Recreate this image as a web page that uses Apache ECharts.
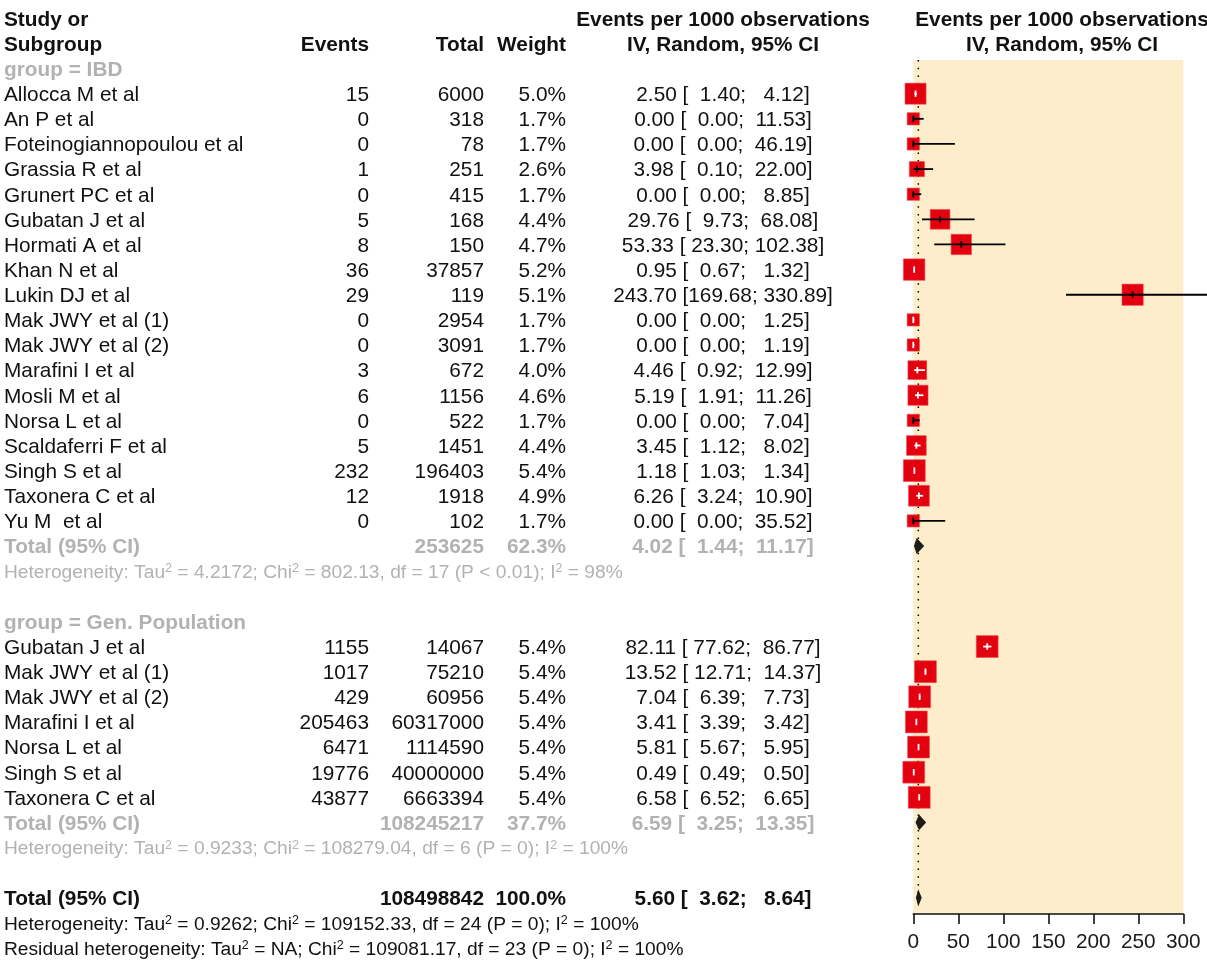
<!DOCTYPE html>
<html>
<head>
<meta charset="utf-8">
<script src="https://cdn.jsdelivr.net/npm/echarts@6/dist/echarts.min.js"></script>
<style>
html,body{margin:0;padding:0;background:#fff;}
#chart{width:1207px;height:966px;}
</style>
</head>
<body>
<div id="chart"></div>
<script>
// ---------- DATA ----------
const ibdStudies = ['Allocca M et al','An P et al','Foteinogiannopoulou et al','Grassia R et al','Grunert PC et al','Gubatan J et al','Hormati A et al','Khan N et al','Lukin DJ et al','Mak JWY et al (1)','Mak JWY et al (2)','Marafini I et al','Mosli M et al','Norsa L et al','Scaldaferri F et al','Singh S et al','Taxonera C et al','Yu M  et al'];
const ibdEvents = [15,0,0,1,0,5,8,36,29,0,0,3,6,0,5,232,12,0];
const ibdTotal = [6000,318,78,251,415,168,150,37857,119,2954,3091,672,1156,522,1451,196403,1918,102];
const ibdWeight = [5.0,1.7,1.7,2.6,1.7,4.4,4.7,5.2,5.1,1.7,1.7,4.0,4.6,1.7,4.4,5.4,4.9,1.7];
const ibdEst = [2.50,0.00,0.00,3.98,0.00,29.76,53.33,0.95,243.70,0.00,0.00,4.46,5.19,0.00,3.45,1.18,6.26,0.00];
const ibdLower = [1.40,0.00,0.00,0.10,0.00,9.73,23.30,0.67,169.68,0.00,0.00,0.92,1.91,0.00,1.12,1.03,3.24,0.00];
const ibdUpper = [4.12,11.53,46.19,22.00,8.85,68.08,102.38,1.32,330.89,1.25,1.19,12.99,11.26,7.04,8.02,1.34,10.90,35.52];
const ibdPooled = {total:253625, weight:62.3, est:4.02, lower:1.44, upper:11.17};

const genStudies = ['Gubatan J et al','Mak JWY et al (1)','Mak JWY et al (2)','Marafini I et al','Norsa L et al','Singh S et al','Taxonera C et al'];
const genEvents = [1155,1017,429,205463,6471,19776,43877];
const genTotal = [14067,75210,60956,60317000,1114590,40000000,6663394];
const genWeight = [5.4,5.4,5.4,5.4,5.4,5.4,5.4];
const genEst = [82.11,13.52,7.04,3.41,5.81,0.49,6.58];
const genLower = [77.62,12.71,6.39,3.39,5.67,0.49,6.52];
const genUpper = [86.77,14.37,7.73,3.42,5.95,0.50,6.65];
const genPooled = {total:108245217, weight:37.7, est:6.59, lower:3.25, upper:13.35};

const overallPooled = {total:108498842, weight:100.0, est:5.60, lower:3.62, upper:8.64};

const hetIBD = 'Heterogeneity: Tau{s|2} = 4.2172; Chi{s|2} = 802.13, df = 17 (P < 0.01); I{s|2} = 98%';
const hetGen = 'Heterogeneity: Tau{s|2} = 0.9233; Chi{s|2} = 108279.04, df = 6 (P = 0); I{s|2} = 100%';
const hetAll = 'Heterogeneity: Tau{s|2} = 0.9262; Chi{s|2} = 109152.33, df = 24 (P = 0); I{s|2} = 100%';
const hetResid = 'Residual heterogeneity: Tau{s|2} = NA; Chi{s|2} = 109081.17, df = 23 (P = 0); I{s|2} = 100%';

const xTicks = {min:0, max:300, interval:50};

// ---------- LAYOUT ----------
const FONT = "'Liberation Sans', Arial, Helvetica, sans-serif";
const FS = 20.8, FS_HET = 19.2, FS_SUP = 12.5;
const BLACK = '#111111';
const GREY = '#b2b2b2';
const ROW_TOP = 18.3, ROW_STEP = 25.13, H = 966;
const COL = {study:4, events:369, total:484, weight:566, effect:723, plotHead:1062};
const PLOT = {left:913.3, width:270, top:60, bottom:914};

function fmtCI(est, lo, hi){
  return est.toFixed(2) + ' [' + lo.toFixed(2).padStart(6,' ') + '; ' + hi.toFixed(2).padStart(6,' ') + ']';
}

const texts = [];
function T(col, row, text, opt){ texts.push(Object.assign({x:COL[col], row, text, align:'left', size:FS, weight:'normal', color:BLACK}, opt||{})); }

T('study',0,'Study or',{weight:'bold'});
T('study',1,'Subgroup',{weight:'bold'});
T('events',1,'Events',{weight:'bold',align:'right'});
T('total',1,'Total',{weight:'bold',align:'right'});
T('weight',1,'Weight',{weight:'bold',align:'right'});
T('effect',0,'Events per 1000 observations',{weight:'bold',align:'center'});
T('effect',1,'IV, Random, 95% CI',{weight:'bold',align:'center'});
T('plotHead',0,'Events per 1000 observations',{weight:'bold',align:'center'});
T('plotHead',1,'IV, Random, 95% CI',{weight:'bold',align:'center'});

const boxes = [];   // [est,row,lo,hi,weight]
const diamonds = []; // [est,row,lo,hi]

function addGroup(label, startRow, names, ev, tot, wt, est, lo, hi, pooled, het){
  T('study', startRow, label, {weight:'bold', color:GREY});
  names.forEach((n,i)=>{
    const r = startRow + 1 + i;
    T('study', r, n);
    T('events', r, String(ev[i]), {align:'right'});
    T('total', r, String(tot[i]), {align:'right'});
    T('weight', r, wt[i].toFixed(1)+'%', {align:'right'});
    T('effect', r, fmtCI(est[i],lo[i],hi[i]), {align:'center'});
    boxes.push([est[i], r, lo[i], hi[i], wt[i]]);
  });
  const tr = startRow + 1 + names.length;
  T('study', tr, 'Total (95% CI)', {weight:'bold', color:GREY});
  T('total', tr, String(pooled.total), {weight:'bold', color:GREY, align:'right'});
  T('weight', tr, pooled.weight.toFixed(1)+'%', {weight:'bold', color:GREY, align:'right'});
  T('effect', tr, fmtCI(pooled.est,pooled.lower,pooled.upper), {weight:'bold', color:GREY, align:'center'});
  diamonds.push([pooled.est, tr, pooled.lower, pooled.upper]);
  T('study', tr+1, het, {size:FS_HET, color:GREY, rich:true});
  return tr + 3;
}
let next = addGroup('group = IBD', 2, ibdStudies, ibdEvents, ibdTotal, ibdWeight, ibdEst, ibdLower, ibdUpper, ibdPooled, hetIBD);
next = addGroup('group = Gen. Population', next, genStudies, genEvents, genTotal, genWeight, genEst, genLower, genUpper, genPooled, hetGen);
const allRow = next;
T('study', allRow, 'Total (95% CI)', {weight:'bold'});
T('total', allRow, String(overallPooled.total), {weight:'bold', align:'right'});
T('weight', allRow, overallPooled.weight.toFixed(1)+'%', {weight:'bold', align:'right'});
T('effect', allRow, fmtCI(overallPooled.est,overallPooled.lower,overallPooled.upper), {weight:'bold', align:'center'});
diamonds.push([overallPooled.est, allRow, overallPooled.lower, overallPooled.upper]);
T('study', allRow+1, hetAll, {size:FS_HET, rich:true});
T('study', allRow+2, hetResid, {size:FS_HET, rich:true});

const yMin0 = -ROW_TOP/ROW_STEP, yMax0 = (H-ROW_TOP)/ROW_STEP;
const yMin1 = (PLOT.top-ROW_TOP)/ROW_STEP, yMax1 = (PLOT.bottom-ROW_TOP)/ROW_STEP;

const chart = echarts.init(document.getElementById('chart'), null, {renderer:'canvas'});
chart.setOption({
  animation:false,
  backgroundColor:'#ffffff',
  grid:[
    {left:0, top:0, width:1207, height:H, show:false},
    {left:PLOT.left, top:PLOT.top, width:PLOT.width, height:PLOT.bottom-PLOT.top, show:true, backgroundColor:'#fdedca', borderWidth:0}
  ],
  xAxis:[
    {gridIndex:0, type:'value', min:0, max:1207, show:false},
    {gridIndex:1, type:'value', min:xTicks.min, max:xTicks.max, interval:xTicks.interval, position:'bottom',
     axisLine:{show:true, onZero:false, lineStyle:{color:'#111', width:1.6}},
     axisTick:{show:true, length:10, lineStyle:{color:'#111', width:1.6}},
     splitLine:{show:false},
     axisLabel:{fontSize:FS, color:'#1a1a1a', fontFamily:FONT, margin:18}}
  ],
  yAxis:[
    {gridIndex:0, type:'value', inverse:true, min:yMin0, max:yMax0, show:false},
    {gridIndex:1, type:'value', inverse:true, min:yMin1, max:yMax1, show:false}
  ],
  series:[
    {
      type:'line', xAxisIndex:1, yAxisIndex:1, z:1, symbol:'none', silent:true,
      data:[[overallPooled.est, yMin1],[overallPooled.est, allRow]],
      lineStyle:{color:'#000', width:1.5, type:[1.5,6.2]}
    },
    {
      type:'custom', xAxisIndex:1, yAxisIndex:1, z:3, clip:false, silent:true,
      data:boxes,
      renderItem:function(params, api){
        const c = api.coord([api.value(0), api.value(1)]);
        const pl = api.coord([api.value(2), api.value(1)]);
        const ph = api.coord([api.value(3), api.value(1)]);
        const s = 9.4*Math.sqrt(api.value(4));
        const inside = pl[0] >= c[0]-s/2 && ph[0] <= c[0]+s/2;
        const lc = inside ? '#ffffff' : '#000000';
        return {type:'group', children:[
          {type:'rect', shape:{x:c[0]-s/2, y:c[1]-s/2, width:s, height:s}, style:{fill:'#e3000f', stroke:'#ee4a52', lineWidth:0.6}},
          {type:'line', shape:{x1:pl[0], y1:c[1], x2:ph[0], y2:c[1]}, style:{stroke:lc, lineWidth:1.8}},
          {type:'line', shape:{x1:c[0], y1:c[1]-3.2, x2:c[0], y2:c[1]+3.2}, style:{stroke:lc, lineWidth:1.8}}
        ]};
      }
    },
    {
      type:'custom', xAxisIndex:1, yAxisIndex:1, z:3, clip:false, silent:true,
      data:diamonds,
      renderItem:function(params, api){
        const c = api.coord([api.value(0), api.value(1)]);
        const pl = api.coord([api.value(2), api.value(1)]);
        const ph = api.coord([api.value(3), api.value(1)]);
        const h = 6.8;
        return {type:'polygon', shape:{points:[[pl[0],c[1]],[c[0],c[1]-h],[ph[0],c[1]],[c[0],c[1]+h]]}, style:{fill:'#1c1c1c', stroke:'#1c1c1c', lineWidth:1.2}};
      }
    },
    {
      type:'custom', xAxisIndex:0, yAxisIndex:0, z:5, clip:false, silent:true,
      data:texts.map(t=>[t.x, t.row]),
      renderItem:function(params, api){
        const t = texts[params.dataIndex];
        const p = api.coord([api.value(0), api.value(1)]);
        const style = {text:t.text, fill:t.color, fontSize:t.size, fontWeight:t.weight, fontFamily:FONT, align:t.align, verticalAlign:'middle'};
        if (t.rich) {
          style.rich = {s:{fontSize:FS_SUP, fontFamily:FONT, fill:t.color, verticalAlign:'top', lineHeight:21}};
        }
        return {type:'text', x:p[0], y:p[1]+1.6, style:style};
      }
    }
  ]
});
</script>
</body>
</html>
